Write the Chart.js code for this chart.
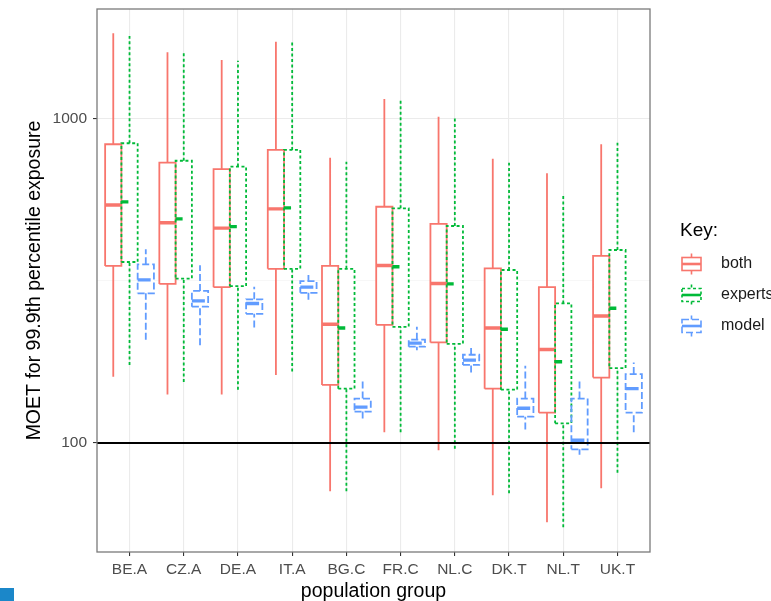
<!DOCTYPE html>
<html><head><meta charset="utf-8">
<script src="https://cdn.jsdelivr.net/npm/chart.js@4.4.1/dist/chart.umd.min.js"></script>
<style>
html,body{margin:0;padding:0;background:#fff;overflow:hidden}
#wrap{position:relative;width:771px;height:601px}
#corner{position:absolute;left:0;top:588px;width:14px;height:13px;background:#1b87c9}
</style></head><body>
<div id="wrap"><canvas id="c" width="771" height="601"></canvas><div id="corner"></div></div>
<script>
// ---- data ----
const categories = ['BE.A','CZ.A','DE.A','IT.A','BG.C','FR.C','NL.C','DK.T','NL.T','UK.T'];
const seriesNames = ['both','experts','model'];

const bothMin    = [160, 141, 141, 162, 71, 108, 95, 69, 57, 72.5];
const bothQ1     = [351, 309, 302, 344, 151, 231, 204, 147, 124, 159];
const bothMedian = [541, 477, 459, 526, 232, 352, 310, 226, 194, 246];
const bothQ3     = [832, 730, 697, 799, 351, 534, 473, 345, 302, 377];
const bothMax    = [1827, 1597, 1512, 1721, 756, 1147, 1011, 751, 677, 832];

const expertsMin    = [174, 154, 146, 166, 71, 108, 96, 70, 55, 81];
const expertsQ1     = [361, 321, 304, 344, 147, 228, 202, 146, 115, 170];
const expertsMedian = [553, 490, 464, 530, 226, 349, 309, 224, 178, 260];
const expertsQ3     = [838, 740, 710, 799, 344, 528, 466, 341, 269, 393];
const expertsMax    = [1793, 1592, 1504, 1714, 735, 1139, 1000, 730, 576, 841];

const modelMin    = [208, 200, 227, 276, 119, 193, 165, 110, 92, 108];
const modelQ1     = [289, 263, 250, 290, 125, 198, 174, 120.5, 95.6, 124];
const modelMedian = [318, 274, 269, 302, 129, 203, 180, 128, 102, 147];
const modelQ3     = [355, 294, 277, 315, 137, 208, 187, 137, 137, 163];
const modelMax    = [395, 353, 303, 329, 157, 228, 196, 173, 158, 177];

const referenceLine = 100;
const yTickValues = [100, 1000];

// ---- styles ----
const FONT = '"Liberation Sans", Arial, Helvetica, sans-serif';
const styles = [
  {color:'#F8766D', dash:[],       medDash:[],      width:1.8},
  {color:'#00BA38', dash:[3,2.5],  medDash:[7,10],  width:1.8},
  {color:'#619CFF', dash:[7,3],    medDash:[13,4],  width:1.8}
];
const offsets = [-0.3, 0, 0.3];
const hw = 0.15;

const stats = [
  {min: bothMin, q1: bothQ1, med: bothMedian, q3: bothQ3, max: bothMax},
  {min: expertsMin, q1: expertsQ1, med: expertsMedian, q3: expertsQ3, max: expertsMax},
  {min: modelMin, q1: modelQ1, med: modelMedian, q3: modelQ3, max: modelMax}
];

const lineBase = {type:'line', pointRadius:0, pointHoverRadius:0, fill:false, spanGaps:false,
  tension:0, borderCapStyle:'butt', borderJoinStyle:'miter'};

const datasets = [];
stats.forEach((s, k) => {
  datasets.push({type:'bar', label: seriesNames[k] + ' fill',
    data: categories.map((c, i) => ({x: i, y: [s.q1[i], s.q3[i]]})),
    backgroundColor:'#ffffff', borderWidth:0, order:20,
    categoryPercentage:0.9, barPercentage:1.0});
});
stats.forEach((s, k) => {
  const o = offsets[k], st = styles[k], ord = 10 - k * 2;
  const box = [], whisk = [], med = [];
  categories.forEach((c, i) => {
    const x = i + o;
    box.push({x:x-hw, y:s.q1[i]}, {x:x+hw, y:s.q1[i]}, {x:x+hw, y:s.q3[i]}, {x:x-hw, y:s.q3[i]}, {x:x-hw, y:s.q1[i]}, {x:x, y:null});
    whisk.push({x:x, y:s.min[i]}, {x:x, y:s.q1[i]}, {x:x, y:null}, {x:x, y:s.q3[i]}, {x:x, y:s.max[i]}, {x:x, y:null});
    med.push({x:x-hw, y:s.med[i]}, {x:x+hw, y:s.med[i]}, {x:x, y:null});
  });
  datasets.push(Object.assign({}, lineBase, {label: seriesNames[k] + ' whiskers', data: whisk,
    borderColor: st.color, borderWidth: st.width, borderDash: st.dash, order: ord + 1}));
  datasets.push(Object.assign({}, lineBase, {label: seriesNames[k], data: box,
    borderColor: st.color, borderWidth: st.width, borderDash: st.dash, order: ord + 1}));
  datasets.push(Object.assign({}, lineBase, {label: seriesNames[k] + ' median', data: med,
    borderColor: st.color, borderWidth: 3.4, borderDash: st.medDash, order: ord}));
});
datasets.push(Object.assign({}, lineBase, {label:'reference', data:[{x:-0.6, y:referenceLine}, {x:9.6, y:referenceLine}],
  borderColor:'#000000', borderWidth:1.8, order:0}));

// ---- plugins ----
const panelBorder = {
  id:'panelBorder',
  afterDatasetsDraw(chart) {
    const {ctx, chartArea:a} = chart;
    ctx.save();
    ctx.strokeStyle = '#7a7a7a'; ctx.lineWidth = 1.3;
    ctx.strokeRect(a.left, a.top, a.right - a.left, a.bottom - a.top);
    ctx.restore();
  }
};
const keyLegend = {
  id:'keyLegend',
  afterDraw(chart) {
    const ctx = chart.ctx;
    ctx.save();
    ctx.textAlign = 'left'; ctx.textBaseline = 'middle';
    ctx.fillStyle = '#000000';
    ctx.font = '19px ' + FONT;
    ctx.fillText('Key:', 680, 231);
    const rows = [264, 295, 326];
    seriesNames.forEach((name, k) => {
      const st = styles[k], cy = rows[k];
      const x0 = 682, x1 = 701, xc = (x0 + x1) / 2;
      ctx.strokeStyle = st.color; ctx.lineWidth = 1.6; ctx.setLineDash(st.dash);
      ctx.strokeRect(x0, cy - 6.5, x1 - x0, 13);
      ctx.beginPath();
      ctx.moveTo(xc, cy - 10.5); ctx.lineTo(xc, cy - 6.5);
      ctx.moveTo(xc, cy + 6.5); ctx.lineTo(xc, cy + 10.5);
      ctx.stroke();
      ctx.setLineDash([]);
      ctx.lineWidth = 2.6;
      ctx.beginPath(); ctx.moveTo(x0, cy); ctx.lineTo(x1, cy); ctx.stroke();
      ctx.fillStyle = '#1a1a1a';
      ctx.font = '16px ' + FONT;
      ctx.fillText(name, 721, cy);
    });
    ctx.restore();
  }
};

new Chart(document.getElementById('c'), {
  data: {datasets},
  options: {
    responsive:false, animation:false, events:[],
    devicePixelRatio:1,
    layout:{padding:{left:0, top:9, right:121, bottom:0}},
    plugins:{legend:{display:false}, tooltip:{enabled:false}},
    scales:{
      x:{type:'linear', min:-0.6, max:9.6, offset:false,
        afterBuildTicks(s){ s.ticks = categories.map((c, i) => ({value:i})); },
        afterFit(s){ s.height = 49; s.paddingLeft = 0; s.paddingRight = 0; s.paddingTop = 0; s.paddingBottom = 0; },
        ticks:{callback:(v) => categories[v] ?? '', autoSkip:false, maxRotation:0, minRotation:0,
          color:'#4d4d4d', padding:4, font:{family:FONT, size:15.5}},
        grid:{offset:false, color:'#ebebeb', lineWidth:1.1, tickColor:'#333333', tickLength:4, drawOnChartArea:true},
        border:{display:false},
        title:{display:true, text:'population group', color:'#000000', padding:0,
          font:{family:FONT, size:19.5, lineHeight:1}}
      },
      y:{type:'logarithmic', min:46.16, max:2171,
        afterBuildTicks(s){
          s.ticks = [{value:yTickValues[0]}, {value:Math.sqrt(yTickValues[0]*yTickValues[1])}, {value:yTickValues[1]}];
        },
        afterFit(s){ s.width = 97; s.paddingTop = 0; s.paddingBottom = 0; s.paddingLeft = 0; s.paddingRight = 0; },
        ticks:{callback:(v) => yTickValues.includes(v) ? String(v) : '', autoSkip:false,
          color:'#4d4d4d', padding:6, font:{family:FONT, size:15.5}},
        grid:{
          offset:false,
          color:(c) => (c.tick && !yTickValues.includes(c.tick.value)) ? '#f3f3f3' : '#ebebeb',
          lineWidth:(c) => (c.tick && !yTickValues.includes(c.tick.value)) ? 0.7 : 1.1,
          tickColor:(c) => (c.tick && !yTickValues.includes(c.tick.value)) ? 'rgba(0,0,0,0)' : '#333333',
          tickLength:4, drawOnChartArea:true},
        border:{display:false},
        title:{display:true, text:'MOET for 99.9th percentile exposure', color:'#000000',
          padding:{top:23, bottom:0}, font:{family:FONT, size:19.5, lineHeight:1.2}}
      }
    }
  },
  plugins:[panelBorder, keyLegend]
});
</script>
</body></html>
